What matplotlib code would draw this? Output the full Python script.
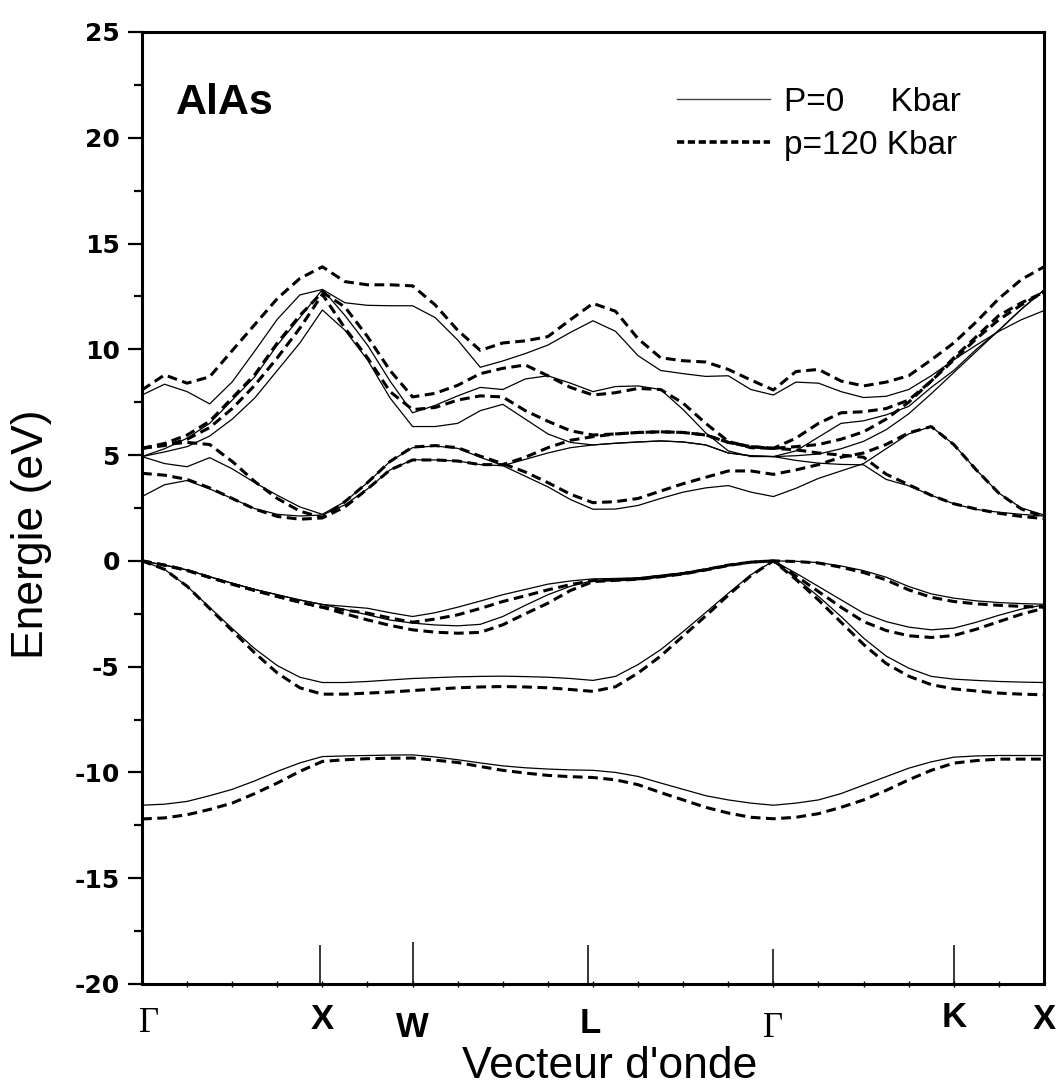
import matplotlib
matplotlib.use("Agg")
import matplotlib.pyplot as plt
from matplotlib.lines import Line2D

# k-path coordinate (Origin-style, 0..20)
K = [0, 0.5, 1, 1.5, 2, 2.5, 3, 3.5, 4,
     4.5, 5, 5.5, 6,
     6.5, 7, 7.5, 8, 8.5, 9, 9.5, 10,
     10.5, 11, 11.5, 12, 12.5, 13, 13.5, 14,
     14.5, 15, 15.5, 16, 16.5, 17, 17.5, 18,
     18.5, 19, 19.5, 20]

# ---- P = 0 kbar (solid) ----
P0_V1 = [-11.55, -11.5, -11.37, -11.1, -10.8, -10.4, -9.95, -9.55, -9.25,
         -9.22, -9.2, -9.18, -9.17,
         -9.27, -9.4, -9.55, -9.69, -9.78, -9.84, -9.88, -9.9,
         -10.0, -10.19, -10.5, -10.8, -11.1, -11.3, -11.45, -11.55,
         -11.45, -11.3, -11.0, -10.6, -10.2, -9.8, -9.5, -9.28,
         -9.22, -9.2, -9.2, -9.2]
P0_V2 = [0, -0.4, -1.2, -2.2, -3.2, -4.15, -4.95, -5.5, -5.75,
         -5.75, -5.7, -5.63, -5.56,
         -5.52, -5.48, -5.46, -5.45, -5.47, -5.5, -5.56, -5.65,
         -5.46, -4.9, -4.2, -3.34, -2.44, -1.53, -0.66, 0,
         -0.82, -1.68, -2.63, -3.65, -4.5, -5.07, -5.46, -5.59,
         -5.65, -5.7, -5.73, -5.75]
P0_V3 = [0, -0.2, -0.43, -0.75, -1.06, -1.35, -1.6, -1.85, -2.06,
         -2.3, -2.55, -2.8, -2.94,
         -3.03, -3.07, -3.0, -2.63, -2.1, -1.6, -1.2, -0.93,
         -0.87, -0.82, -0.7, -0.58, -0.4, -0.19, -0.05, 0,
         -0.58, -1.21, -1.84, -2.47, -2.87, -3.13, -3.26, -3.18,
         -2.9, -2.57, -2.28, -2.08]
P0_V4 = [0, -0.2, -0.43, -0.75, -1.06, -1.35, -1.6, -1.85, -2.06,
         -2.15, -2.24, -2.45, -2.63,
         -2.45, -2.19, -1.9, -1.6, -1.35, -1.1, -0.95, -0.85,
         -0.83, -0.8, -0.68, -0.56, -0.38, -0.18, -0.05, 0,
         -0.02, -0.08, -0.24, -0.46, -0.77, -1.21, -1.56, -1.76,
         -1.89, -1.97, -2.02, -2.05]
P0_C1 = [3.04, 3.6, 3.8, 3.4, 2.95, 2.47, 2.2, 2.12, 2.17,
         2.65, 3.4, 4.3, 4.78,
         4.77, 4.72, 4.55, 4.5, 4.8, 5.1, 5.35, 5.48,
         5.56, 5.62, 5.67, 5.62, 5.48, 5.1, 4.97, 4.93,
         4.75, 4.62, 4.56, 4.54, 3.85, 3.55, 3.1, 2.7,
         2.43, 2.3, 2.2, 2.12]
P0_C2 = [4.93, 4.6, 4.45, 4.88, 4.35, 3.7, 3.1, 2.55, 2.2,
         2.8, 3.7, 4.7, 5.35,
         5.43, 5.32, 4.9, 4.5, 4.0, 3.5, 2.9, 2.44,
         2.45, 2.62, 2.95, 3.25, 3.45, 3.56, 3.25, 3.04,
         3.43, 3.9, 4.25, 4.6, 5.3, 6.0, 6.35, 5.5,
         4.3, 3.2, 2.5, 2.17]
P0_C3 = [4.93, 5.15, 5.4, 5.9, 6.7, 7.7, 9.0, 10.3, 11.86,
         10.9, 9.5, 7.7, 6.35,
         6.35, 6.5, 7.1, 7.4, 6.7, 6.0, 5.6, 5.48,
         5.56, 5.62, 5.67, 5.62, 5.48, 5.1, 4.97, 4.93,
         5.2, 5.85, 6.5, 6.62, 6.9, 7.3, 8.2, 9.0,
         10.0, 10.9, 11.9, 12.8]
P0_C4 = [4.93, 5.3, 5.8, 6.5, 7.6, 8.7, 10.2, 11.5, 12.83,
         11.6, 10.2, 8.5, 7.0,
         7.35, 7.8, 8.2, 8.1, 8.6, 8.75, 8.4, 8.0,
         8.24, 8.27, 8.1, 7.15, 6.05, 5.2, 4.93, 4.93,
         4.97, 5.05, 5.3, 5.65, 6.2, 6.95, 7.9, 8.9,
         9.9, 10.9, 11.9, 12.8]
P0_C5 = [7.84, 8.35, 8.0, 7.42, 8.46, 9.92, 11.42, 12.57, 12.83,
         12.2, 12.08, 12.06, 12.06,
         11.5, 10.44, 9.15, 9.45, 9.8, 10.2, 10.8, 11.35,
         10.85, 9.7, 9.0, 8.85, 8.72, 8.75, 8.1, 7.84,
         8.45, 8.4, 8.0, 7.72, 7.78, 8.1, 8.75, 9.5,
         10.2, 10.85, 11.4, 11.83]

# ---- P = 120 kbar (dashed) ----
P120_V1 = [-12.2, -12.15, -12.0, -11.75, -11.45, -11.0, -10.5, -9.95, -9.48,
           -9.4, -9.35, -9.33, -9.32,
           -9.42, -9.53, -9.72, -9.9, -10.03, -10.14, -10.2, -10.24,
           -10.35, -10.58, -10.95, -11.3, -11.65, -11.92, -12.12, -12.19,
           -12.12, -11.95, -11.65, -11.3, -10.85, -10.35, -9.9, -9.56,
           -9.44, -9.37, -9.37, -9.37]
P120_V2 = [0, -0.4, -1.2, -2.25, -3.3, -4.35, -5.3, -6.0, -6.3,
           -6.3, -6.25, -6.2, -6.13,
           -6.06, -6.0, -5.96, -5.94, -5.96, -6.0, -6.08, -6.17,
           -5.95, -5.3, -4.5, -3.55, -2.6, -1.62, -0.7, 0,
           -0.88, -1.85, -2.9, -3.95, -4.85, -5.45, -5.85, -6.05,
           -6.15, -6.25, -6.3, -6.33]
P120_V3 = [0, -0.2, -0.45, -0.78, -1.1, -1.4, -1.68, -1.95, -2.19,
           -2.5, -2.79, -3.05, -3.26,
           -3.37, -3.42, -3.38, -3.02, -2.5, -2.0, -1.4, -0.98,
           -0.92, -0.87, -0.75, -0.62, -0.43, -0.22, -0.06, 0,
           -0.71, -1.45, -2.19, -2.87, -3.29, -3.54, -3.62, -3.53,
           -3.23, -2.87, -2.52, -2.24]
P120_V4 = [0, -0.2, -0.45, -0.78, -1.1, -1.4, -1.68, -1.95, -2.19,
           -2.33, -2.47, -2.7, -2.9,
           -2.75, -2.55, -2.25, -1.92, -1.65, -1.37, -1.12, -0.93,
           -0.9, -0.85, -0.73, -0.6, -0.41, -0.2, -0.06, 0,
           -0.03, -0.1, -0.3, -0.55, -0.9, -1.37, -1.72, -1.92,
           -2.03, -2.1, -2.15, -2.19]
P120_C1 = [4.14, 4.05, 3.85, 3.45, 2.95, 2.45, 2.1, 1.97, 2.03,
           2.55, 3.4, 4.3, 4.77,
           4.77, 4.72, 4.55, 4.55, 4.9, 5.35, 5.7, 5.87,
           6.0, 6.07, 6.1, 6.07, 5.95, 5.6, 5.4, 5.32,
           5.25, 5.1, 5.0, 4.9, 4.1, 3.6, 3.1, 2.7,
           2.45, 2.25, 2.1, 2.0]
P120_C2 = [5.32, 5.5, 5.6, 5.5, 4.7, 3.75, 2.95, 2.35, 2.05,
           2.8, 3.7, 4.7, 5.38,
           5.45, 5.35, 4.95, 4.6, 4.2, 3.7, 3.15, 2.75,
           2.8, 2.95, 3.3, 3.65, 3.95, 4.25, 4.25, 4.09,
           4.3, 4.55, 4.9, 5.1, 5.5, 6.05, 6.35, 5.5,
           4.3, 3.2, 2.45, 2.09]
P120_C3 = [5.32, 5.45, 5.75, 6.3, 7.2, 8.3, 9.6, 11.0, 12.6,
           11.0, 9.6, 8.0, 7.15,
           7.25, 7.6, 7.8, 7.75, 7.1, 6.6, 6.15, 5.95,
           6.0, 6.07, 6.1, 6.07, 5.95, 5.6, 5.4, 5.32,
           5.8, 6.5, 7.0, 7.05, 7.2, 7.6, 8.5, 9.5,
           10.5, 11.4, 12.1, 12.7]
P120_C4 = [5.32, 5.55, 5.95, 6.6, 7.7, 8.8, 10.3, 11.6, 12.7,
           12.0, 10.6, 9.0, 7.75,
           7.92, 8.3, 8.85, 9.1, 9.26, 8.75, 8.2, 7.84,
           7.95, 8.15, 8.1, 7.45, 6.5, 5.65, 5.35, 5.32,
           5.4, 5.5, 5.75, 6.1, 6.7, 7.5, 8.5, 9.6,
           10.6, 11.6, 12.2, 12.7]
P120_C5 = [8.08, 8.79, 8.4, 8.7, 9.94, 11.17, 12.4, 13.35, 13.9,
           13.2, 13.05, 13.05, 13.0,
           12.1, 10.9, 9.95, 10.3, 10.4, 10.6, 11.4, 12.17,
           11.8, 10.5, 9.6, 9.46, 9.4, 9.05, 8.55, 8.08,
           8.95, 9.05, 8.5, 8.27, 8.45, 8.75, 9.5, 10.3,
           11.3, 12.4, 13.3, 13.9]

BANDS_P0 = [P0_V1, P0_V2, P0_V3, P0_V4, P0_C1, P0_C2, P0_C3, P0_C4, P0_C5]
BANDS_P120 = [P120_V1, P120_V2, P120_V3, P120_V4,
              P120_C1, P120_C2, P120_C3, P120_C4, P120_C5]

# high-symmetry points
SYM_LABELS = ["\u0393", "X", "W", "L", "\u0393", "K", "X"]
SYM_POS = [0.15, 4, 6, 9.93, 14, 18, 20]
SYM_LABEL_Y = [-0.041, -0.037, -0.046, -0.042, -0.047, -0.035, -0.037]
SYM_LINE_X = [3.95, 6, 9.9, 14, 18]
SYM_LINE_TOP = [-18.15, -18.0, -18.15, -18.35, -18.15]

LEGEND_LABELS = ["P=0     Kbar", "p=120 Kbar"]

plt.rcParams["font.family"] = ["Liberation Sans", "DejaVu Sans"]
plt.rcParams["axes.unicode_minus"] = False

fig = plt.figure(figsize=(10.59, 10.88), dpi=100)
ax = fig.add_axes([0.1341, 0.0956, 0.8517, 0.875])

for b in BANDS_P0:
    ax.plot(K, b, color="black", lw=0.9, solid_joinstyle="round")
for b in BANDS_P120:
    ax.plot(K, b, color="black", lw=2.2, linestyle=(0, (3.2, 1.8)))

ax.vlines(SYM_LINE_X, -20, SYM_LINE_TOP, color="black", lw=1.1)

ax.set_xlim(0, 20)
ax.set_ylim(-20, 25)

ax.set_yticks(range(-20, 26, 5))
ax.set_yticks([-17.5, -12.5, -7.5, -2.5, 2.5, 7.5, 12.5, 17.5, 22.5], minor=True)
ax.tick_params(axis="y", which="major", direction="out", length=10, width=1.6,
               pad=6, right=False)
ax.tick_params(axis="y", which="minor", direction="out", length=6, width=1.6)
for t in ax.get_yticklabels():
    t.set_fontweight("bold")
    t.set_fontsize(18)
    t.set_family("DejaVu Sans")

ax.set_xticks([])
ax.set_xticks(range(1, 20), minor=True)
ax.tick_params(axis="x", which="minor", direction="inout", length=4, width=1.0,
               top=False)
ax.tick_params(axis="x", which="major", length=0, labelbottom=False)

for s in ax.spines.values():
    s.set_linewidth(2.2)

trans = ax.get_xaxis_transform()
for lab, xp, yp in zip(SYM_LABELS, SYM_POS, SYM_LABEL_Y):
    if lab == "\u0393":
        ax.text(xp, yp, lab, transform=trans, ha="center", va="center",
                fontsize=25, family=["Liberation Serif", "DejaVu Serif"])
    else:
        ax.text(xp, yp, lab, transform=trans, ha="center", va="center",
                fontsize=25, fontweight="bold")

ax.set_xlabel("Vecteur d'onde", fontsize=32, va="baseline")
ax.xaxis.set_label_coords(0.519, -0.0987)
ax.set_ylabel("Energie (eV)", fontsize=32)
ax.yaxis.set_label_coords(-0.10, 0.4727)

ax.text(0.0377, 0.914, "AlAs", transform=ax.transAxes, fontsize=31,
        fontweight="bold", va="baseline", ha="left")

# legend samples: thin solid, short heavy dashes as in the original
leg_solid = Line2D([], [], color="#444444", lw=1.0)
leg_dash = Line2D([], [], color="black", lw=2.6, linestyle=(0, (2.0, 1.0)))
ax.legend([leg_solid, leg_dash], LEGEND_LABELS, loc="upper left",
          bbox_to_anchor=(0.593, 0.9426), frameon=False, fontsize=24,
          handlelength=2.8, handletextpad=0.4, labelspacing=0.36,
          borderpad=0, borderaxespad=0)

fig.savefig("out.png", dpi=100, facecolor="white")
